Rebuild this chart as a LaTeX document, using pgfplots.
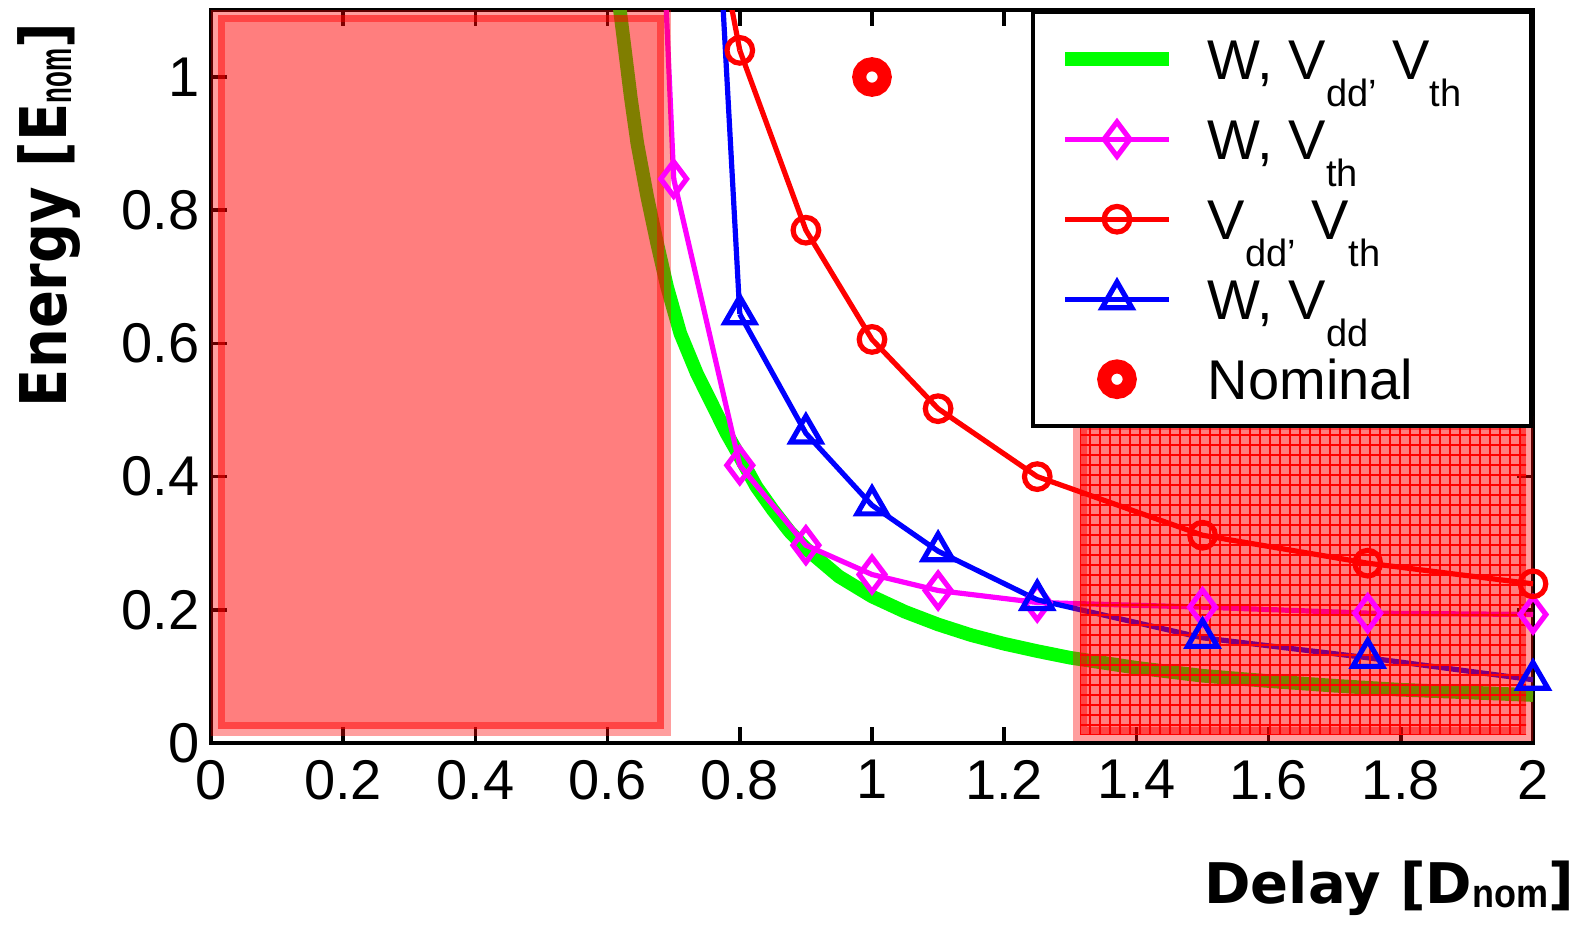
\documentclass[border=0pt]{standalone}
\usepackage{fontspec}
\setmainfont{Liberation Sans}
\newfontfamily\dejavu{DejaVu Sans}
\usepackage{pgfplots}
\pgfplotsset{compat=1.18}
\usetikzlibrary{patterns.meta}

\definecolor{cgreen}{RGB}{0,255,0}
\definecolor{cmag}{RGB}{255,0,255}
\definecolor{cred}{RGB}{255,0,0}
\definecolor{cblue}{RGB}{0,0,255}

\newcommand{\lsub}[1]{\raisebox{-6.9pt}{\fontsize{9.5}{9.5}\selectfont #1}}
\newcommand{\lent}[1]{\makebox[72.4pt][l]{#1}}
\newcommand{\xsub}[1]{\raisebox{-1pt}{\scalebox{0.9}[1]{\rmfamily\bfseries\fontsize{10}{10}\selectfont #1}}}
\newcommand{\ysub}[1]{\raisebox{-1pt}{\scalebox{0.65}[1]{\rmfamily\bfseries\fontsize{10}{10}\selectfont #1}}}

\begin{document}
\begin{tikzpicture}
\begin{axis}[
  name=ax,
  scale only axis, width=330.5pt, height=183.15pt,
  xmin=0, xmax=2, ymin=0, ymax=1.1,
  xtick={0,0.2,...,2.01}, ytick={0,0.2,...,1.01},
  tick align=inside, major tick length=4pt,
  axis line style={line width=1pt},
  tick style={line width=0.9pt, black},
  /pgf/number format/assume math mode=true,
  tick label style={font=\fontsize{14}{14}\selectfont},
  xticklabel style={yshift=-0.8pt},
  yticklabel style={xshift=0.6pt},
  xlabel={\dejavu\bfseries Delay [D\xsub{nom}]},
  ylabel={\scalebox{1}[1.15]{\dejavu\bfseries Energy [E\ysub{nom}]}},
  xlabel style={font=\fontsize{14}{14}\selectfont, at={(axis description cs:1.0416,-0.2184)}, anchor=base east},
  ylabel style={font=\fontsize{14}{14}\selectfont, at={(axis description cs:-0.1092,0.7207)}, anchor=base},
  legend cell align=left,
  legend style={at={(rel axis cs:1,1)}, anchor=north east, draw=black, line width=1pt, fill=white,
    inner xsep=6.4pt, inner ysep=4.7pt, row sep=6pt, column sep=6pt,
    font=\fontsize{14}{14}\selectfont,
    nodes={inner sep=2pt, text height=10pt, text depth=0pt}},
  legend image code/.code={\draw[mark repeat=2,mark phase=2] plot coordinates {(0pt,0pt) (13pt,0pt) (26pt,0pt)};},
]
% W, Vdd, Vth
\addplot[color=cgreen, line width=3.4pt, no marks] coordinates {
(0.615,1.13) (0.625,1.05) (0.635,0.97) (0.645,0.90) (0.66,0.82) (0.675,0.75)
(0.69,0.685) (0.71,0.615) (0.735,0.555) (0.76,0.505) (0.78,0.465) (0.80,0.43)
(0.825,0.385) (0.85,0.35) (0.875,0.318) (0.9,0.292) (0.95,0.25) (1.0,0.22)
(1.05,0.197) (1.1,0.178) (1.15,0.162) (1.2,0.149) (1.25,0.138) (1.3,0.128)
(1.4,0.113) (1.5,0.101) (1.6,0.093) (1.7,0.086) (1.8,0.080) (1.9,0.076) (2.0,0.072)};
\addlegendentry{\lent{W, V\lsub{dd’} V\lsub{th}}}
% W, Vth
\addplot[color=cmag, line width=1.3pt, forget plot] coordinates {(0.68,1.3) (0.7,0.847)};
\addplot[color=cmag, line width=1.3pt, mark=diamond, mark size=4.3pt, mark options={solid, line width=1.3pt}] coordinates {
(0.7,0.847) (0.8,0.417) (0.9,0.297) (1.0,0.253) (1.1,0.229) (1.25,0.211) (1.5,0.204) (1.75,0.195) (2.0,0.193)};
\addlegendentry{\lent{W, V\lsub{th}}}
% Vdd, Vth
\addplot[color=cred, line width=1.3pt, forget plot] coordinates {(0.75,1.3) (0.8,1.04)};
\addplot[color=cred, line width=1.3pt, mark=o, mark size=3.2pt, mark options={solid, line width=1.3pt}] coordinates {
(0.8,1.04) (0.9,0.77) (1.0,0.606) (1.1,0.502) (1.25,0.40) (1.5,0.312) (1.75,0.27) (2.0,0.239)};
\addlegendentry{\lent{V\lsub{dd’} V\lsub{th}}}
% W, Vdd
\addplot[color=cblue, line width=1.3pt, forget plot] coordinates {(0.77,1.19) (0.8,0.644)};
\addplot[color=cblue, line width=1.3pt, mark=triangle, mark size=4.3pt, mark options={solid, line width=1.3pt}] coordinates {
(0.8,0.644) (0.9,0.465) (1.0,0.357) (1.1,0.288) (1.25,0.215) (1.5,0.158) (1.75,0.128) (2.0,0.095)};
\addlegendentry{\lent{W, V\lsub{dd}}}
% Nominal
\addplot[color=cred, only marks, mark=o, mark size=3.2pt, mark options={solid, line width=3.5pt},
  legend image code/.code={\draw plot coordinates {(13pt,0pt)};}] coordinates {(1.0,1.0)};
\addlegendentry{\lent{Nominal}}

% shaded regions
\addplot[forget plot, draw=none, fill=cred, fill opacity=0.38] coordinates {(-0.01,0.0105) (0.696,0.0105) (0.696,1.11) (-0.01,1.11)} -- cycle;
\addplot[forget plot, draw=none, fill=cred, fill opacity=0.2] coordinates {(0.0106,0.021) (0.6854,0.021) (0.6854,1.0935) (0.0106,1.0935)} -- cycle;
\addplot[forget plot, draw=cred, draw opacity=0.45, line width=1.75pt] coordinates {(0.0159,0.0263) (0.6801,0.0263) (0.6801,1.0882) (0.0159,1.0882)} -- cycle;

\addplot[forget plot, draw=none, fill=cred, fill opacity=0.38] coordinates {(1.3045,0.003) (2.01,0.003) (2.01,0.491) (1.3045,0.491)} -- cycle;
\addplot[forget plot, draw=none, fill=cred, fill opacity=0.2] coordinates {(1.315,0.0135) (1.9894,0.0135) (1.9894,0.4805) (1.315,0.4805)} -- cycle;
\addplot[forget plot, draw=none, pattern={Hatch[angle=0, distance=2.5pt, line width=0.4pt]}, pattern color=cred, fill opacity=0.35] coordinates {(1.315,0.0135) (1.9894,0.0135) (1.9894,0.4805) (1.315,0.4805)} -- cycle;
\addplot[forget plot, draw=cred, draw opacity=0.45, line width=1.75pt] coordinates {(1.3204,0.0188) (1.984,0.0188) (1.984,0.4752) (1.3204,0.4752)} -- cycle;
\end{axis}
\pgfresetboundingbox
\path ([shift={(-52.75pt,-45.5pt)}]ax.south west) rectangle ([shift={(10.5pt,2.6pt)}]ax.north east);
\end{tikzpicture}
\end{document}
